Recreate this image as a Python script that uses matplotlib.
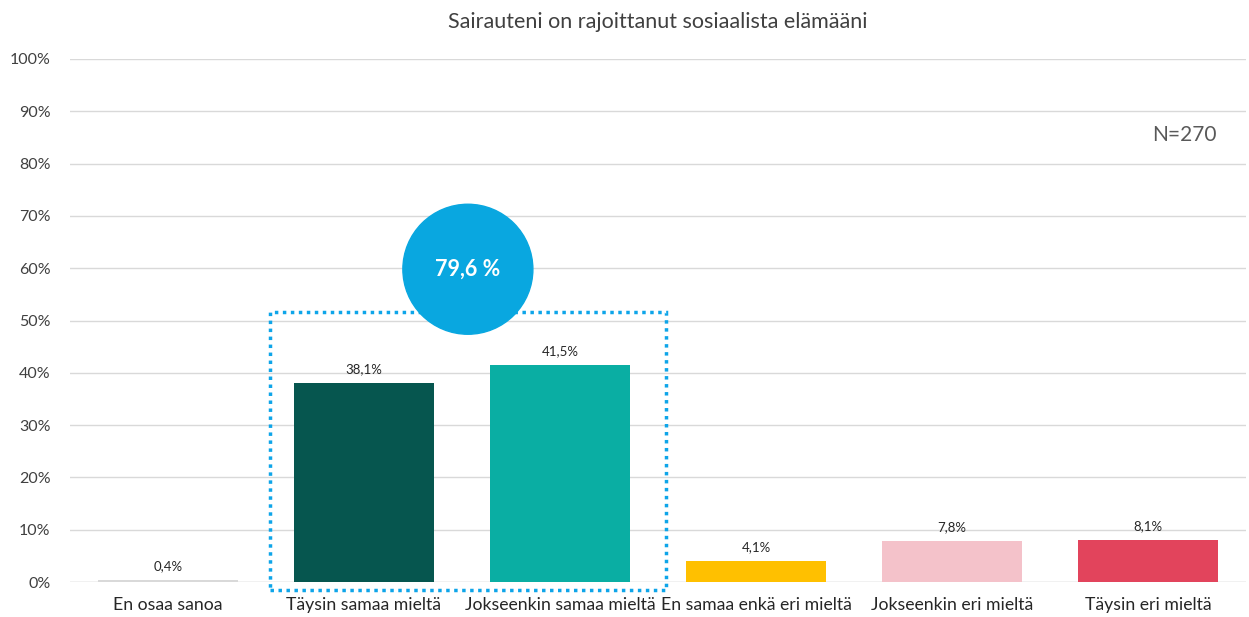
import matplotlib
matplotlib.use("Agg")
import matplotlib.pyplot as plt
from matplotlib.patches import Ellipse, Rectangle

categories = ["En osaa sanoa", "Täysin samaa mieltä", "Jokseenkin samaa mieltä",
              "En samaa enkä eri mieltä", "Jokseenkin eri mieltä", "Täysin eri mieltä"]
values = [0.4, 38.1, 41.5, 4.1, 7.8, 8.1]
value_labels = ["0,4%", "38,1%", "41,5%", "4,1%", "7,8%", "8,1%"]
colors = ["#D9D9D9", "#06564F", "#0AAEA3", "#FFC000", "#F4C2CA", "#E2445C"]
yticks = list(range(0, 101, 10))
ytick_labels = [f"{t}%" for t in yticks]
title = "Sairauteni on rajoittanut sosiaalista elämääni"
total_label = "79,6 %"
n_label = "N=270"

plt.rcParams['font.family'] = ['Lato', 'DejaVu Sans']

fig = plt.figure(figsize=(12.49, 6.17), dpi=100)
W, H = 1249, 617
ax = fig.add_axes([70 / W, 35 / H, (1246 - 70) / W, (582 - 59) / H])

x = list(range(len(categories)))
ax.bar(x, values, width=0.714, color=colors, zorder=3)
for xi, v, lab in zip(x, values, value_labels):
    ax.text(xi, v + 1.5, lab, ha="center", va="bottom", fontsize=9.5, color="#262626")

ax.set_xlim(-0.5, len(categories) - 0.5)
ax.set_ylim(0, 100)
ax.set_yticks(yticks)
ax.set_yticklabels(ytick_labels, fontsize=11.5, color="#404040")
ax.set_xticks(x)
ax.set_xticklabels(categories, fontsize=12.7, color="#262626")
ax.tick_params(axis="both", length=0)
ax.tick_params(axis="x", pad=11)
ax.tick_params(axis="y", pad=14)
ax.yaxis.grid(True, color="#D9D9D9", linewidth=1.0, zorder=0)
for s in ax.spines.values():
    s.set_visible(False)
ax.axhline(0, color="#D9D9D9", linewidth=1.0, zorder=2)

ax.set_title(title, fontsize=15.5, color="#404040", pad=22)

# highlight box around the two "agree" bars
box_x0 = x[1] - 0.48
box_x1 = x[2] + 0.54
box = Rectangle((box_x0, -1.5), box_x1 - box_x0, 53.1, fill=False,
                edgecolor="#0EA5E9", linewidth=2.5, linestyle=(0, (1, 1.3)),
                clip_on=False, zorder=4)
ax.add_patch(box)

# circle with combined share
cx = (box_x0 + box_x1) / 2
cy = 59.8
circ = Ellipse((cx, cy), 130 / 196, 130 / 5.23, color="#09A7E0", zorder=5, clip_on=False)
ax.add_patch(circ)
ax.text(cx, cy, total_label, ha="center", va="center", fontsize=15.5, fontweight="bold",
        color="white", zorder=6)

ax.text(5.35, 85.5, n_label, ha="right", va="center", fontsize=15, color="#595959")

fig.savefig("out.png", dpi=100)
